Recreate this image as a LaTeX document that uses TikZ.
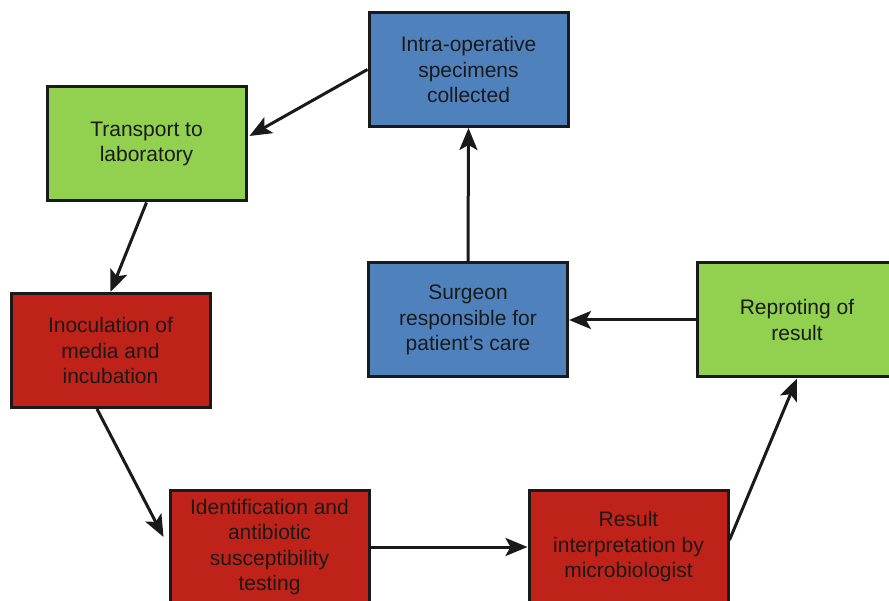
\documentclass[tikz,border=0pt]{standalone}
\usepackage{fontspec}
\setmainfont{Liberation Sans}
\usetikzlibrary{arrows.meta,calc}
\definecolor{bxblue}{HTML}{4F81BD}
\definecolor{bxgreen}{HTML}{92D050}
\definecolor{bxred}{HTML}{BE2219}
\definecolor{ink}{HTML}{1A1A1A}
\tikzset{
  box/.style={draw=ink, line width=3pt, minimum width=199pt, minimum height=114pt,
    align=center, text=ink, font=\fontsize{21}{25.5}\selectfont, inner sep=2pt},
  conn/.style={draw=ink, line width=3pt, -{Stealth[length=22pt,width=18pt,inset=5pt]}}
}
\begin{document}
\begin{tikzpicture}[x=1pt,y=-1pt]
\useasboundingbox (0,0) rectangle (889,601);
\clip (0,0) rectangle (889,601);
\node[box, fill=bxblue] (intra) at (468.5,69.5) {Intra-operative\\specimens\\collected};
\node[box, fill=bxgreen] (trans) at (146.5,144) {Transport to\\laboratory};
\node[box, fill=bxred] (inoc) at (110.5,350.5) {Inoculation of\\media and\\incubation};
\node[box, fill=bxred] (ident) at (269.5,547) {Identification and\\antibiotic\\susceptibility\\testing};
\node[box, fill=bxred] (res) at (628.5,547) {Result\\interpretation by\\microbiologist};
\node[box, fill=bxblue] (surg) at (468,320) {Surgeon\\responsible for\\patient’s care};
\node[box, fill=bxgreen] (rep) at (797,320) {Reproting of\\result};
\draw[conn] (intra.west) -- ([yshift=8pt,xshift=2pt]trans.east);
\draw[conn] (trans.south) -- (inoc.north);
\draw[conn] ([xshift=-13.5pt]inoc.south) -- ([xshift=-5pt,yshift=10pt]ident.west);
\draw[conn] (ident.east) -- (res.west);
\draw[conn] ([yshift=7pt]res.east) -- (rep.south);
\draw[conn] (rep.west) -- (surg.east);
\draw[conn] (surg.north) -- (intra.south);
\end{tikzpicture}
\end{document}
